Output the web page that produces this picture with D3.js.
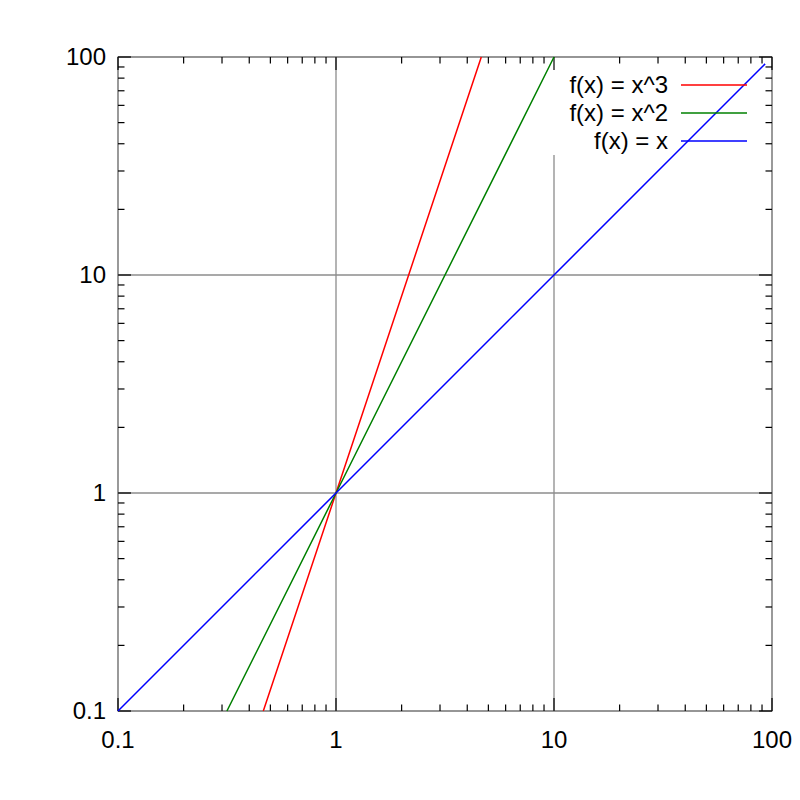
<!DOCTYPE html>
<html><head><meta charset="utf-8">
<script src="https://cdn.jsdelivr.net/npm/d3@7"></script>
<style>body{margin:0;background:#fff}</style>
</head><body>
<svg id="c" width="800" height="800"></svg>
<script>
const xDomain = [0.1, 100];
const yDomain = [0.1, 100];
const tickValues = [0.1, 1, 10, 100];
const tickLabels = ["0.1", "1", "10", "100"];
const seriesNames = ["f(x) = x^3", "f(x) = x^2", "f(x) = x"];
const seriesColors = ["#ff0000", "#008000", "#0000ff"];
const xCube = [0.464, 1, 4.64];
const yCube = [0.1, 1, 100];
const xSquare = [0.316, 1, 10];
const ySquare = [0.1, 1, 100];
const xLinear = [0.1, 1, 10, 93];
const yLinear = [0.1, 1, 10, 93];
const series = [
  xCube.map((x,i)=>[x,yCube[i]]),
  xSquare.map((x,i)=>[x,ySquare[i]]),
  xLinear.map((x,i)=>[x,yLinear[i]])
];

const svg = d3.select("#c");
const L=118, R=772, T=57, B=711;
const x = d3.scaleLog().domain(xDomain).range([L,R]);
const y = d3.scaleLog().domain(yDomain).range([B,T]);
const font = "'Liberation Sans', Arial, sans-serif";
const gridCol = "#8c8c8c";
const fs = 24;

// grid
const g = svg.append("g");
tickValues.forEach(v=>{
  g.append("line").attr("x1",x(v)).attr("x2",x(v)).attr("y1",T).attr("y2",B).attr("stroke",gridCol).attr("stroke-width",1.3);
  g.append("line").attr("x1",L).attr("x2",R).attr("y1",y(v)).attr("y2",y(v)).attr("stroke",gridCol).attr("stroke-width",1.3);
});
// legend mask
svg.append("rect").attr("x",548).attr("y",T+1).attr("width",214).attr("height",97).attr("fill","#fff");
// border
svg.append("rect").attr("x",L).attr("y",T).attr("width",R-L).attr("height",B-T).attr("fill","none").attr("stroke",gridCol).attr("stroke-width",1.3);

// ticks
const minor = [];
for (let d=0.1; d<100; d*=10) for (let k=2;k<=9;k++) minor.push(+(d*k).toPrecision(3));
const tk = svg.append("g").attr("stroke","#000").attr("stroke-width",1.2);
function ticks(vals,len){
  vals.forEach(v=>{
    tk.append("line").attr("x1",x(v)).attr("x2",x(v)).attr("y1",B).attr("y2",B-len);
    tk.append("line").attr("x1",x(v)).attr("x2",x(v)).attr("y1",T).attr("y2",T+len);
    tk.append("line").attr("y1",y(v)).attr("y2",y(v)).attr("x1",L).attr("x2",L+len);
    tk.append("line").attr("y1",y(v)).attr("y2",y(v)).attr("x1",R).attr("x2",R-len);
  });
}
ticks(tickValues,13);
ticks(minor,6.5);

// tick labels
tickValues.forEach((v,i)=>{
  svg.append("text").attr("x",x(v)).attr("y",748).attr("text-anchor","middle")
    .attr("font-family",font).attr("font-size",fs).text(tickLabels[i]);
  svg.append("text").attr("x",106).attr("y",y(v)).attr("dy","0.35em").attr("text-anchor","end")
    .attr("font-family",font).attr("font-size",fs).text(tickLabels[i]);
});

// curves
const line = d3.line().x(d=>x(d[0])).y(d=>y(d[1]));
series.forEach((s,i)=>{
  svg.append("path").attr("d",line(s)).attr("fill","none").attr("stroke",seriesColors[i]).attr("stroke-width",1.5);
});

// legend
seriesNames.forEach((n,i)=>{
  const yy = 85 + i*28;
  svg.append("text").attr("x",668).attr("y",yy).attr("dy","0.35em").attr("text-anchor","end")
    .attr("font-family",font).attr("font-size",fs).text(n);
  svg.append("line").attr("x1",681).attr("x2",747).attr("y1",yy).attr("y2",yy).attr("stroke",seriesColors[i]).attr("stroke-width",1.5);
});
</script>
</body></html>
